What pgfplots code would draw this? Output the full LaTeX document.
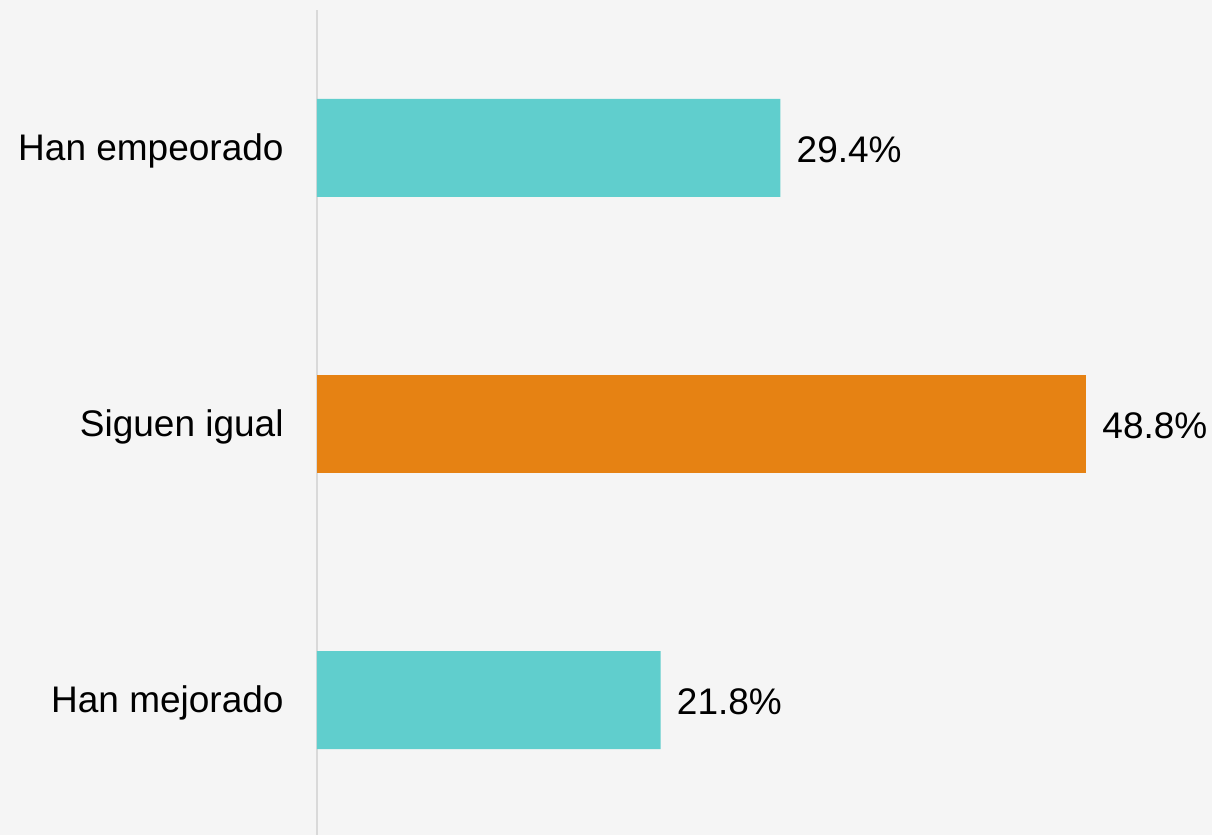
\documentclass[border=0pt]{standalone}
\usepackage{pgfplots}
\pgfplotsset{compat=1.18}
\usepackage{fontspec}
\setmainfont{Liberation Sans}
\definecolor{bg}{HTML}{F5F5F5}
\definecolor{teal}{HTML}{60CECD}
\definecolor{orng}{HTML}{E68213}
\definecolor{axl}{HTML}{D9D9D9}
\begin{document}
\begin{tikzpicture}
\fill[bg] (-158.5pt,0pt) rectangle (447.5pt,417.5pt);
\begin{axis}[
  at={(0pt,0pt)}, anchor=south west,
  scale only axis,
  width=447.5pt, height=412.5pt,
  xmin=0, xmax=56.79,
  ymin=-0.489, ymax=2.5,
  clip=false,
  axis x line=none,
  axis y line*=left,
  y axis line style={draw=axl, line width=0.75pt, -},
  ytick={0,1,2},
  yticklabels={Han mejorado, Siguen igual, Han empeorado},
  major tick length=0pt,
  yticklabel style={anchor=east, inner sep=0pt, xshift=-16.5pt, yshift=-1.5pt, font=\fontsize{18.5}{22}\selectfont},
  /pgf/number format/assume math mode=true,
  xbar, bar width=49pt, bar shift=0pt,
  nodes near coords={\pgfmathprintnumber[fixed,precision=1,fixed zerofill,assume math mode=true]{\pgfplotspointmeta}\%},
  nodes near coords style={anchor=west, inner sep=0pt, xshift=8pt, yshift=-1pt, font=\fontsize{18.5}{22}\selectfont},
  point meta=explicit,
]
\addplot[fill=teal, draw=none] coordinates {(21.8,0) [21.8] (29.4,2) [29.4]};
\addplot[fill=orng, draw=none] coordinates {(48.8,1) [48.8]};
\end{axis}
\end{tikzpicture}
\end{document}
